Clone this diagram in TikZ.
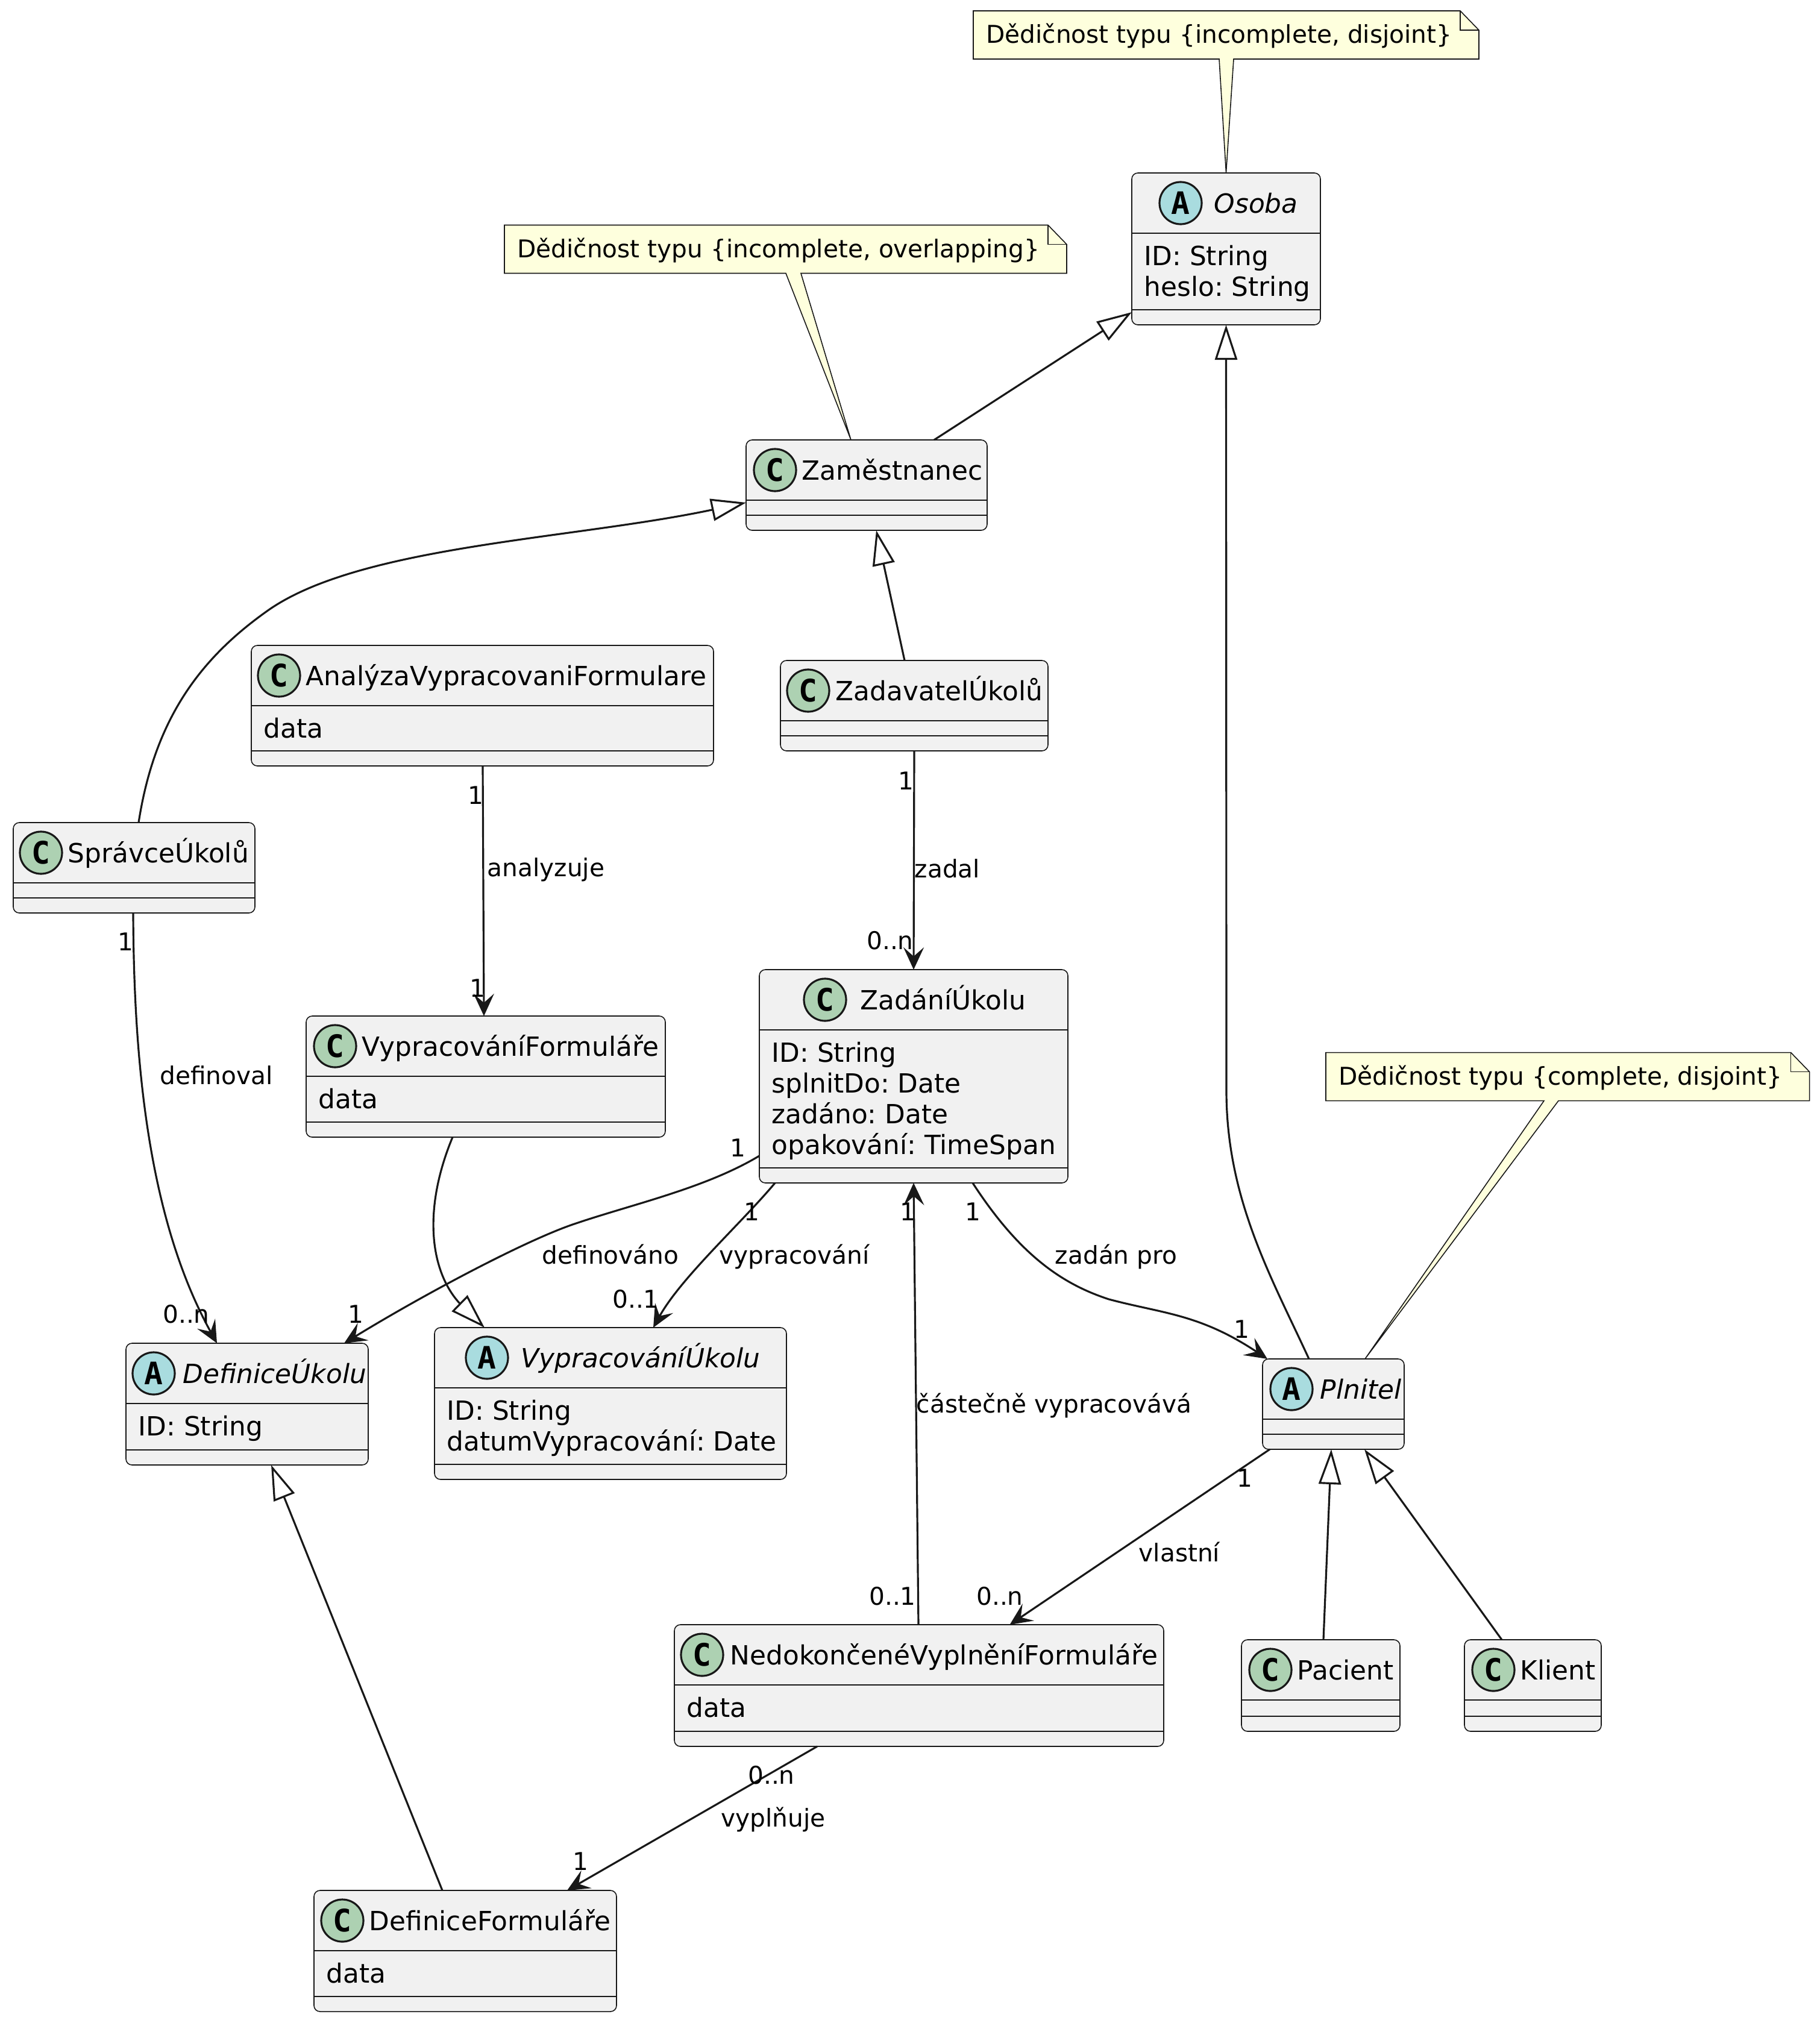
\documentclass[tikz,border=0pt]{standalone}
\usepackage{fontspec}
\usetikzlibrary{arrows.meta}
\setmainfont{DejaVu Sans}
\newfontfamily\spotfont{DejaVu Sans Mono}
\frenchspacing
\definecolor{cara}{HTML}{181818}
\definecolor{vypln}{HTML}{F1F1F1}
\definecolor{zluta}{HTML}{FEFFDD}
\definecolor{zelena}{HTML}{ADD1B2}
\definecolor{modra}{HTML}{A9DCDF}
\tikzset{
  trida/.style={draw=cara,fill=vypln,line width=0.45pt,rounded corners=0.1cm,inner sep=0pt,outer sep=0pt,anchor=north west},
  spot/.style={circle,draw=cara,line width=0.9pt,minimum size=0.7cm,inner sep=0pt,font=\spotfont\bfseries\fontsize{14.6}{15}\selectfont},
  spotC/.style={spot,fill=zelena},
  spotA/.style={spot,fill=modra},
  nazev/.style={anchor=base west,inner sep=0pt,font=\fontsize{12.47}{15}\selectfont},
  nazevC/.style={nazev},
  nazevA/.style={nazev,font=\fontsize{12.47}{15}\selectfont\itshape},
  atribut/.style={anchor=base west,inner sep=0pt,font=\fontsize{12.47}{15}\selectfont},
  pozn/.style={draw=cara,fill=zluta,line width=0.45pt},
  poznbox/.style={inner sep=0pt,outer sep=0pt,anchor=north west,minimum height=0.8cm},
  popis/.style={anchor=base,inner sep=0pt,font=\fontsize{11.57}{14}\selectfont},
  dedi/.style={-{Triangle[open,fill=white,length=5.8mm,width=3.7mm]},cara,line width=0.9pt},
  vazba/.style={-{Stealth[length=3.7mm,width=3.4mm,inset=1.5mm]},cara,line width=0.9pt},
}
\newcommand{\trida}[8][C]{
  \node[trida,minimum width=#4cm,minimum height=#5cm] (#2) at (#3) {};
  \draw[cara,line width=0.45pt] ([yshift=-1cm]#2.north west) -- ([yshift=-1cm]#2.north east);
  \draw[cara,line width=0.45pt] ([yshift=0.25cm]#2.south west) -- ([yshift=0.25cm]#2.south east);
  \node[spot#1] (#2-s) at ([xshift=#6cm,yshift=-0.5cm]#2.north west) {#1};
  \node[nazev#1] (#2-n) at ([xshift=#7cm,yshift=-0.66cm]#2.north west) {#8};
}
\newcommand{\atributy}[2]{
  \foreach \a [count=\i] in {#2}
    \node[atribut] (#1-a\i) at ([xshift=0.2cm,yshift={-1.53cm-(\i-1)*0.513cm}]#1.north west) {\a};
}
\newcommand{\poznamka}[8]{
  \node[poznbox,minimum width=#4cm] (#1) at (#2,#3) {};
  \draw[pozn] (#1.north west) -- ([xshift=-0.31cm]#1.north east) -- ([yshift=-0.32cm]#1.north east)
    -- (#1.south east) -- ([xshift=#6cm]#1.south west) -- #7 -- ([xshift=#5cm]#1.south west) -- (#1.south west) -- cycle;
  \draw[pozn,fill=none] ([xshift=-0.31cm]#1.north east) -- ([xshift=-0.31cm,yshift=-0.32cm]#1.north east) -- ([yshift=-0.32cm]#1.north east);
  \node[popis,anchor=base west] (#1-t) at ([xshift=0.205cm,yshift=-0.54cm]#1.north west) {#8};
}

\begin{document}
\begin{tikzpicture}
  \useasboundingbox (0,0) rectangle (30.19,-33.57);
  \trida[A]{osoba}{18.78,-2.87}{3.13}{2.52}{0.81}{1.36}{Osoba}
  \atributy{osoba}{ID: String,heslo: String}
  \trida{zam}{12.38,-7.30}{4.00}{1.50}{0.48}{0.92}{Zaměstnanec}
  \trida{zadavatel}{12.95,-10.96}{4.44}{1.50}{0.46}{0.91}{ZadavatelÚkolů}
  \trida{analyza}{4.17,-10.71}{7.67}{2.00}{0.46}{0.90}{AnalýzaVypracovaniFormulare}
  \atributy{analyza}{data}
  \trida{spravce}{0.22,-13.65}{4.01}{1.50}{0.46}{0.90}{SprávceÚkolů}
  \trida{zadani}{12.60,-16.09}{5.12}{3.54}{1.09}{1.67}{ZadáníÚkolu}
  \atributy{zadani}{ID: String,splnitDo: Date,zadáno: Date,opakování: TimeSpan}
  \trida{vf}{5.08,-16.86}{5.96}{2.01}{0.48}{0.92}{VypracováníFormuláře}
  \atributy{vf}{data}
  \trida[A]{defu}{2.09,-22.29}{4.02}{2.02}{0.46}{0.94}{DefiniceÚkolu}
  \atributy{defu}{ID: String}
  \trida[A]{vu}{7.21,-22.03}{5.84}{2.52}{0.87}{1.43}{VypracováníÚkolu}
  \atributy{vu}{ID: String,datumVypracování: Date}
  \trida[A]{plnitel}{20.95,-22.55}{2.35}{1.50}{0.48}{0.95}{Plnitel}
  \trida{nvf}{11.19,-26.96}{8.12}{2.02}{0.46}{0.92}{NedokončenéVyplněníFormuláře}
  \atributy{nvf}{data}
  \trida{pacient}{20.60,-27.21}{2.63}{1.52}{0.48}{0.92}{Pacient}
  \trida{klient}{24.30,-27.21}{2.27}{1.52}{0.48}{0.92}{Klient}
  \trida{df}{5.21,-31.37}{5.02}{2.01}{0.47}{0.91}{DefiniceFormuláře}
  \atributy{df}{data}
  \poznamka{pozn1}{16.15}{-0.18}{8.39}{4.08}{4.32}{(osoba.north)}{Dědičnost typu \{incomplete, disjoint\}}
  \poznamka{pozn2}{8.37}{-3.735}{9.33}{4.67}{4.92}{([xshift=1.74cm]zam.north west)}{Dědičnost typu \{incomplete, overlapping\}}
  \poznamka{pozn3}{22.00}{-17.466}{8.026}{3.62}{3.86}{([xshift=1.70cm]plnitel.north west)}{Dědičnost typu \{complete, disjoint\}}
  \draw[dedi] ([xshift=3.12cm]zam.north west) -- ([yshift=0.21cm]osoba.south west);
  \draw[dedi] ([xshift=0.77cm]plnitel.north west) .. controls (21.10,-21.20) and (20.35,-19.90) .. (20.35,-18.10) -- (osoba.south);
  \draw[dedi] ([xshift=2.08cm]spravce.north west) .. controls (2.57,-11.90) and (3.35,-10.90) .. (4.46,-10.12) .. controls (6.00,-9.05) and (9.50,-8.95) .. ([yshift=0.46cm]zam.south west);
  \draw[dedi] ([xshift=2.06cm]zadavatel.north west) -- ([xshift=2.16cm]zam.south west);
  \draw[vazba] ([xshift=3.84cm]analyza.south west) -- ([xshift=2.95cm]vf.north west);
  \draw[vazba] (zadavatel.south) -- (zadani.north);
  \draw[vazba] ([xshift=1.99cm]spravce.south west) .. controls (2.22,-17.80) and (2.50,-20.30) .. ([xshift=1.51cm]defu.north west);
  \draw[dedi] ([xshift=2.43cm]vf.south west) .. controls (7.00,-20.10) and (7.15,-21.10) .. (7.62,-21.62) -- ([xshift=0.83cm]vu.north west);
  \draw[vazba] ([yshift=0.45cm]zadani.south west) .. controls (11.70,-19.72) and (10.50,-19.98) .. (9.53,-20.31) .. controls (8.70,-20.59) and (7.00,-21.50) .. ([xshift=3.62cm]defu.north west);
  \draw[vazba] ([xshift=0.26cm]zadani.south west) .. controls (12.30,-20.30) and (11.30,-21.20) .. ([xshift=3.63cm]vu.north west);
  \draw[vazba] ([xshift=4.05cm]nvf.north west) -- (zadani.south);
  \draw[vazba] ([xshift=3.54cm]zadani.south west) .. controls (16.90,-20.80) and (17.60,-21.30) .. (18.40,-21.56) .. controls (19.30,-21.80) and (19.90,-21.80) .. ([xshift=0.08cm]plnitel.north west);
  \draw[vazba] ([xshift=0.12cm]plnitel.south west) -- ([xshift=5.565cm]nvf.north west);
  \draw[vazba] ([xshift=2.37cm]nvf.south west) -- ([xshift=4.20cm]df.north west);
  \draw[dedi] ([xshift=1.36cm]pacient.north west) -- ([xshift=1.14cm]plnitel.south west);
  \draw[dedi] ([xshift=0.62cm]klient.north west) -- ([xshift=1.69cm]plnitel.south west);
  \draw[dedi] ([xshift=2.13cm]df.north west) -- ([xshift=2.41cm]defu.south west);
  \foreach \x/\y/\t [count=\i] in {
    9.06/-14.54/analyzuje,15.72/-14.56/zadal,3.59/-17.99/definoval,10.13/-20.97/definováno,
    13.18/-20.97/vypracování,18.52/-20.97/zadán pro,17.49/-23.44/částečně vypracovává,19.57/-25.91/vlastní,
    12.83/-30.31/vyplňuje,7.895/-13.34/1,15.03/-13.10/1,2.08/-15.77/1,7.925/-16.54/1,14.77/-15.75/0..n,
    12.24/-19.19/1,12.47/-20.25/1,15.06/-20.25/1,16.14/-20.25/1,3.09/-21.95/0..n,5.90/-21.95/1,
    10.55/-21.70/0..1,20.60/-22.20/1,20.65/-24.67/1,14.81/-26.63/0..1,16.59/-26.63/0..n,12.80/-29.60/0..n,9.63/-31.03/1}
    \node[popis] (popis\i) at (\x,\y) {\t};
\end{tikzpicture}
\end{document}
